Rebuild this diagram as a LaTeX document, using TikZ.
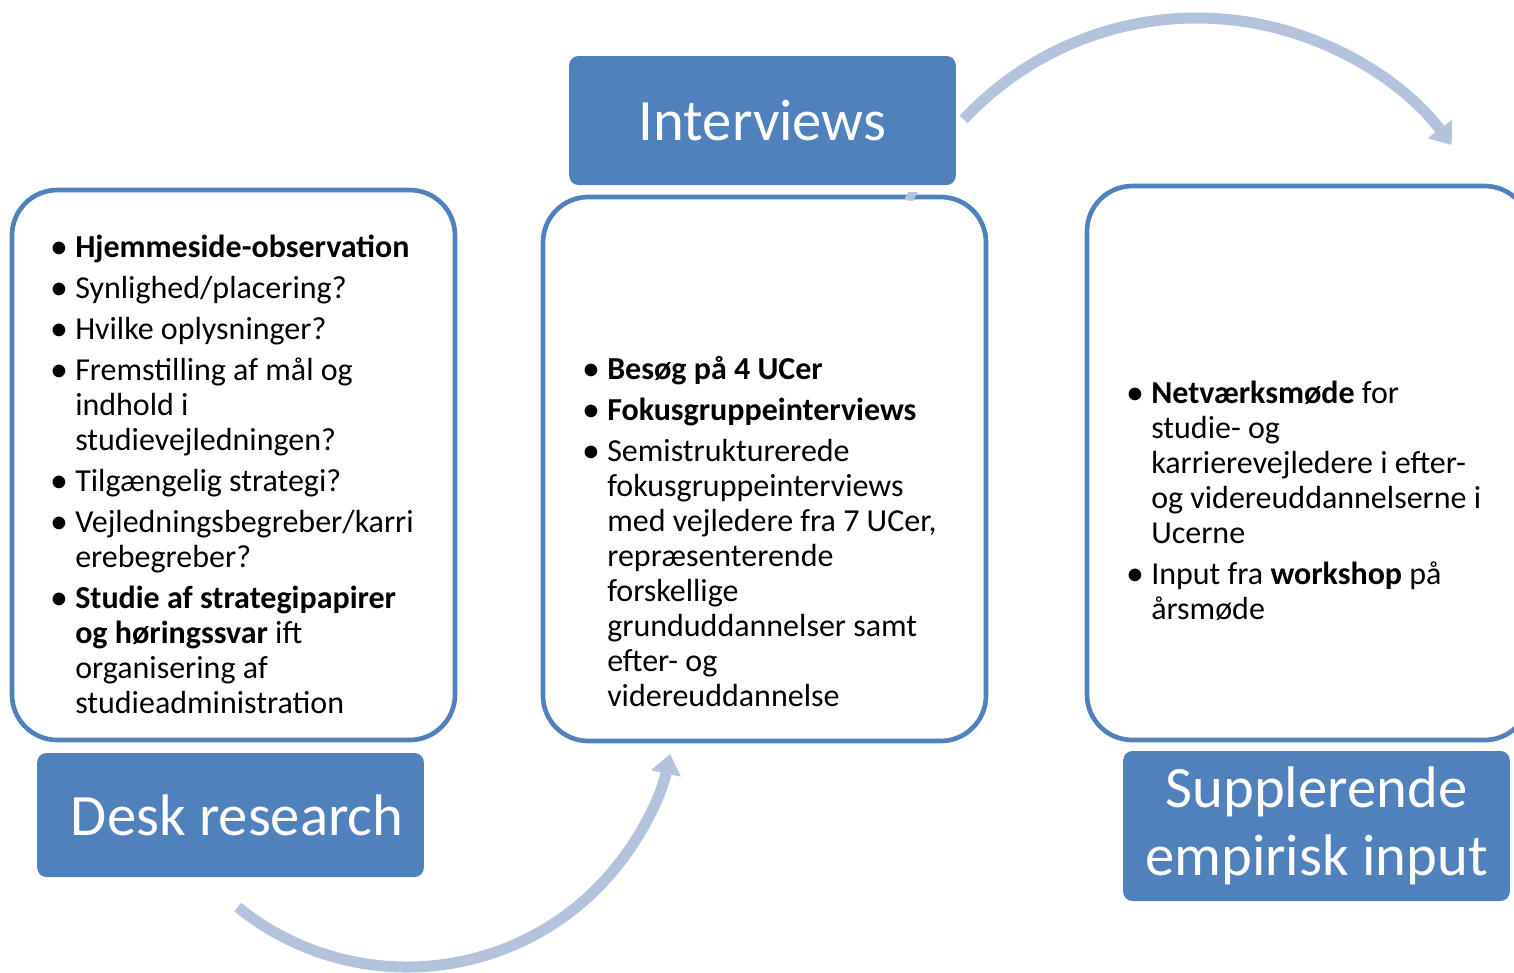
\documentclass[tikz,border=0pt]{standalone}
\usepackage{fontspec}
\setmainfont{Carlito}
\usepackage{enumitem}
\usetikzlibrary{arrows.meta,calc,positioning}
\definecolor{boxblue}{HTML}{4F81BD}
\definecolor{arcblue}{HTML}{B3C3DE}

\tikzset{
  panel/.style={draw=boxblue,line width=3.5pt,rounded corners=34pt,fill=white,inner sep=0pt,outer sep=0pt},
  titlebox/.style={fill=boxblue,rounded corners=7pt,text=white,inner sep=0pt,outer sep=0pt,align=center,
    minimum width=290pt,font=\fontsize{44}{51}\selectfont},
  listtext/.style={anchor=north west,inner sep=0pt,text width=330pt,align=left,
    font=\fontsize{24}{26.25}\selectfont},
  arcarrow/.style={draw=arcblue,line width=8.25pt,-{Triangle[width=22pt,length=15pt]}}
}
\newcommand\listspacing{\spaceskip 0pt\xspaceskip 0pt\relax}
\newcommand\listbullet{\raisebox{-0.6pt}{\scalebox{1.12}{\textbullet}}}
\setlist[itemize]{label=\listbullet,leftmargin=16.5pt,labelsep=5.5pt,
  itemsep=4.5pt,parsep=0pt,topsep=0pt,partopsep=0pt,before=\listspacing}

\begin{document}
\begin{tikzpicture}[x=0.75pt,y=-0.75pt]
\useasboundingbox (0,0) rectangle (1514,972);

% arrows between the steps
\coordinate (deskarc) at (407,698);
\coordinate (intarc) at (1197,337);
\draw[arcarrow] ($(deskarc)+(129:269)$) arc[start angle=129,end angle=12,radius=269];
\draw[arcarrow] ($(intarc)+(223:319)$) arc[start angle=223,end angle=323,radius=319];

% white panels
\node[panel,minimum width=332.25pt,minimum height=412.5pt] (deskpanel) at (233.5,465) {};
\node[panel,minimum width=332.25pt,minimum height=408pt] (intpanel) at (764.5,469) {};
\node[panel,minimum width=332.25pt,minimum height=415.5pt] (supppanel) at (1308.5,463) {};
\fill[arcblue] (904,200)--(908,192)--(918,192)--(913,201)--cycle;

% titles
\node[titlebox,minimum height=93pt] (desk) at (230.5,815) {\hspace*{10pt}Desk research};
\node[titlebox,minimum height=96.75pt] (interviews) at (762.5,120.5) {Interviews};
\node[titlebox,minimum height=112.5pt] (supp) at (1316.5,826) {Supplerende\\empirisk input};

% lists
\node[listtext] (desklist) at (53,222) {%
\begin{itemize}
\item \textbf{Hjemmeside-observation}
\item Synlighed/placering?
\item Hvilke oplysninger?
\item Fremstilling af mål og\newline indhold i\newline studievejledningen?
\item Tilgængelig strategi?
\item Vejledningsbegreber/karri\newline erebegreber?
\item \textbf{Studie af strategipapirer}\newline \textbf{og høringssvar} ift\newline organisering af\newline studieadministration
\end{itemize}};
\node[listtext] (intlist) at (585,344) {%
\begin{itemize}
\item \textbf{Besøg på 4 UCer}
\item \textbf{Fokusgruppeinterviews}
\item Semistrukturerede\newline fokusgruppeinterviews\newline med vejledere fra 7 UCer,\newline repræsenterende\newline forskellige\newline grunduddannelser samt\newline efter- og\newline videreuddannelse
\end{itemize}};
\node[listtext] (supplist) at (1129,368) {%
\begin{itemize}
\item \textbf{Netværksmøde} for\newline studie- og\newline karrierevejledere i efter-\newline og videreuddannelserne i\newline Ucerne
\item Input fra \textbf{workshop} på\newline årsmøde
\end{itemize}};
\end{tikzpicture}
\end{document}
